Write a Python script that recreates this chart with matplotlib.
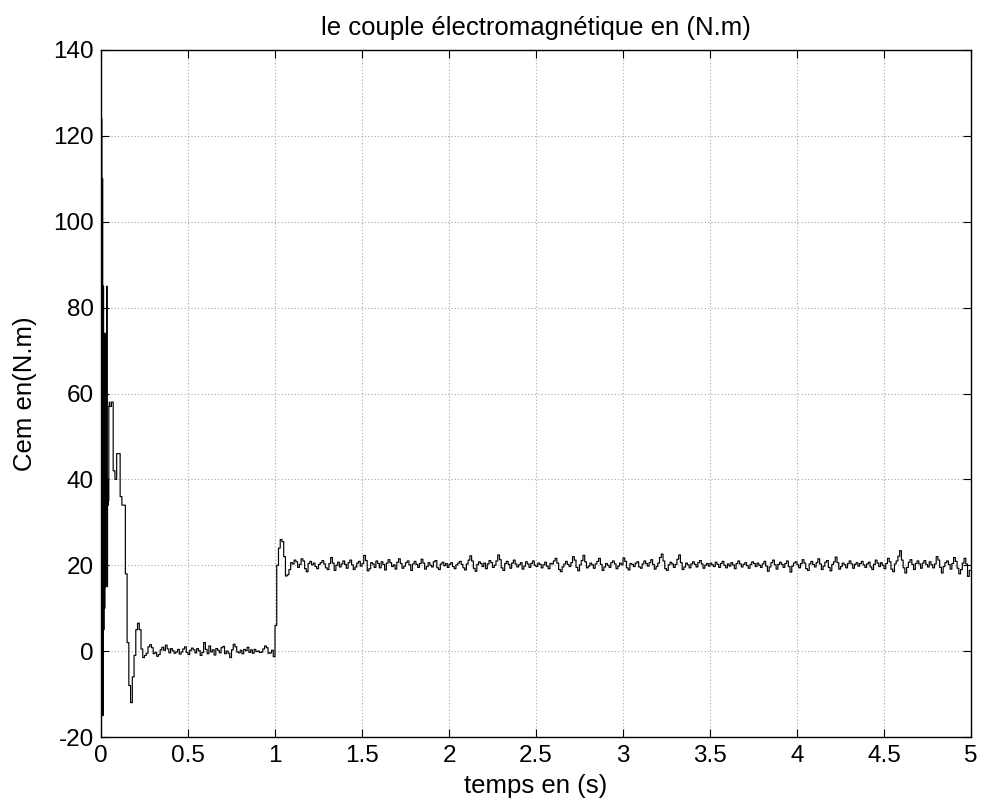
import numpy as np
import matplotlib
matplotlib.use("Agg")
import matplotlib.pyplot as plt

plt.rcParams["font.family"] = ["Liberation Sans", "DejaVu Sans"]
plt.rcParams["axes.unicode_minus"] = False

# Start-up burst, sampled every 2.5 ms (t = 0 .. 0.0475 s)
cem_startup = [-18, 124, -10, 110, -15, 85, 5, 74, 10, 74,
               15, 72, 33, 85, 15, 40, 34, 35, 57, 58]

# Transient after start-up, every 10 ms (t = 0.05 .. 0.25 s)
cem_transient = [57, 58, 42, 40, 46, 46, 36, 34, 34, 18,
                 2, -8, -12, -6, -1, 5, 6.5, 5, 0.5, -1.5, -1]

# No-load ripple around 0 N.m, every 10 ms (t = 0.26 .. 0.99 s)
cem_noload = [-0.5, 1.0, 1.5, 0.8, -0.6, -0.3, -1.2, -0.8, 0.3, 0.9,
              0.2, 1.4, 0.5, -0.4, 0.6, 0.1, -0.5, -0.2, 0.4, -0.7,
              -0.2, 0.5, 1.0, -0.3, -0.8, 0.2, 0.7, 0.3, -0.4, 0.6,
              0.1, -1.0, -0.3, 2.0, 0.4, -0.6, 1.2, -0.2, 0.3, -0.9,
              0.6, 0.2, -0.4, 0.8, 1.1, -0.6, 0.0, -0.5, -1.5, 0.3,
              1.6, 1.0, -0.2, -0.4, 0.2, -0.6, 0.4, 0.1, 0.9, -0.3,
              0.3, -0.5, 0.4, -0.1, 0.0, -0.3, -0.2, 0.5, 1.2, 0.8,
              -0.5, -0.4, 0.2, -1.3]

# Load step applied at t = 1 s (t = 1.00 .. 1.06 s)
cem_step = [6, 20, 24, 26, 25.5, 22, 17.5]

# Load torque level and ripple around it, every 10 ms (t = 1.07 .. 4.99 s)
load_level = 20.0
cem_load_ripple = [
    -2.2, -1.0, 0.6,
    0.3, 1.2, 0.8, -0.5, 0.2, 1.5, 1.0, -0.8, -1.5, 0.4,
    0.9, 0.1, 0.5, -0.3, -0.8, 0.2, 0.6, 1.1, 0.3, -0.6,
    -1.0, 0.4, 1.8, 0.5, -1.2, 0.0, 0.7, -0.4, 0.3, 1.0,
    0.2, -0.7, 0.6, 1.2, 0.1, -1.0, -0.4, 0.5, 0.9, -0.2,
    0.4, 2.3, 1.1, -1.3, -0.8, 0.6, 0.3, -0.5, 1.0, 0.4,
    -0.6, 0.8, 0.2, -1.1, 0.5, 1.3, 0.6, -0.3, 0.1, -0.9,
    0.7, 1.5, 0.4, -0.7, -0.2, 0.6, 1.0, 0.1, -1.2, 0.3,
    0.9, 0.2, -0.5, 0.4, 1.4, 0.5, -0.9, -0.3, 0.6, 0.0,
    -0.4, 0.8, 1.1, -0.6, -1.0, 0.3, 0.7, -0.1, 0.4, -0.5,
    0.2, 0.6, -0.3, -0.8, 0.1, 0.5, 0.9, 0.2, -0.6, -1.1,
    0.3, 1.2, 2.2, 1.0, -0.7, -1.4, 0.2, 0.8, 0.4, -0.3,
    0.5, -0.8, 0.3, 1.1, 0.6, -0.5, 0.0, 1.0, 2.4, 1.3,
    -0.6, -1.2, 0.4, 0.9, 0.2, -0.7, 0.5, 1.2, 0.3, -0.4,
    0.1, 0.6, -0.9, -0.2, 0.8, 0.3, -0.5, 0.4, 1.0, 0.0,
    -0.3, 0.5, 0.2, -0.6, 0.1, 0.7, -0.2, -0.8, 0.4, 0.3,
    1.0, 1.6, 0.5, -1.0, -1.5, -0.4, 0.3, 0.9, 0.2, -0.3,
    0.6, 2.0, 1.2, -0.5, -1.3, 0.1, 1.1, 2.3, 0.8, -0.6,
    -0.2, 0.5, 0.1, -0.7, 0.3, 0.9, 1.6, 0.2, -1.2, -0.4,
    0.4, 0.0, -0.5, 0.6, 1.0, 0.3, -0.8, -0.2, 0.5, 0.1,
    1.7, 0.9, -0.6, -1.1, 0.4, 0.2, -0.3, 0.5, 0.8, -0.4,
    -0.7, 0.3, 1.0, 0.4, -0.2, 0.6, 1.3, 0.2, -0.9, -0.3,
    0.5, 1.8, 2.6, 1.0, -0.8, -1.2, 0.1, 0.7, 0.3, -0.5,
    0.2, 1.4, 2.4, 0.6, -1.0, -0.4, 0.5, 0.1, -0.6, 0.3,
    0.8, 0.2, -0.4, 0.6, 1.1, 0.3, -0.7, 0.0, 0.4, -0.2,
    0.5, 0.1, -0.3, 0.7, 0.2, -0.5, 0.4, 0.9, 0.0, -0.6,
    0.3, -0.2, 0.6, 0.1, -0.8, 0.4, 1.0, 0.3, -0.4, 0.2,
    0.6, -0.1, -0.7, 0.2, 0.8, 0.4, -0.3, 0.5, 0.0, -0.5,
    0.3, 0.9, -0.2, -1.4, -0.4, 0.6, 1.2, 0.1, -0.9, 0.2,
    0.7, 0.2, -0.5, 0.4, 1.0, -0.3, -1.6, -0.2, 0.5, 0.8,
    0.1, -0.6, 0.4, 1.3, 0.5, -0.8, -1.2, 0.3, 0.9, 0.2,
    -0.4, 0.6, 1.5, 0.3, -1.0, -0.2, 0.7, 1.1, -0.5, -1.3,
    0.2, 0.8, 1.9, 0.6, -0.9, -0.3, 0.5, 0.1, -0.6, 0.4,
    1.0, 0.3, -0.7, 0.2, 0.6, -0.2, 0.4, 0.9, 0.1, -0.5,
    0.3, 0.7, -0.4, -1.0, 0.2, 1.2, 0.5, -0.3, 0.6, 0.0,
    -0.8, 0.4, 1.6, 0.8, -0.9, -1.5, 0.3, 1.0, 2.1, 3.4,
    1.2, -0.6, -1.8, -0.5, 0.7, 1.3, 0.2, -1.0, 0.4, 1.0,
    0.3, -0.7, 0.5, 1.1, 0.2, -0.4, 0.8, 0.1, -0.6, 0.3,
    2.0, 1.2, -0.5, -1.8, -0.3, 0.6, 1.0, 0.2, -0.9, 0.4,
    1.8, 0.9, -0.7, -2.0, -1.0, 0.5, 1.6, 0.3, -2.6, -1.2,
]

x_ticks = [0, 0.5, 1, 1.5, 2, 2.5, 3, 3.5, 4, 4.5, 5]
x_tick_labels = ["0", "0.5", "1", "1.5", "2", "2.5", "3", "3.5", "4", "4.5", "5"]
y_ticks = [-20, 0, 20, 40, 60, 80, 100, 120, 140]

# Sample instants for each segment
t_startup = 0.0025 * np.arange(len(cem_startup))
t_transient = 0.05 + 0.01 * np.arange(len(cem_transient))
t_noload = 0.26 + 0.01 * np.arange(len(cem_noload))
t_step = 1.00 + 0.01 * np.arange(len(cem_step))
t_load = 1.07 + 0.01 * np.arange(len(cem_load_ripple))

t = np.concatenate([t_startup, t_transient, t_noload, t_step, t_load, [5.0]])
cem = np.concatenate([cem_startup, cem_transient, cem_noload, cem_step,
                      load_level + np.array(cem_load_ripple),
                      [load_level + cem_load_ripple[-1]]])

fig = plt.figure(figsize=(9.81, 8.11), dpi=100)
ax = fig.add_axes([101 / 981, 1 - 737 / 811, 870 / 981, 687 / 811])

ax.plot(t, cem, drawstyle="steps-post", color="black", lw=0.85)

ax.set_xlim(0, 5)
ax.set_ylim(-20, 140)
ax.set_xticks(x_ticks)
ax.set_xticklabels(x_tick_labels)
ax.set_yticks(y_ticks)

ax.grid(True, color="#a8a8a8", linestyle=(0, (1, 2)), linewidth=0.8)
ax.tick_params(direction="in", length=6, width=0.8, top=True, right=True,
               labelsize=17.5, colors="black")
ax.tick_params(axis="x", pad=6)
ax.tick_params(axis="y", pad=5)
for s in ax.spines.values():
    s.set_linewidth(1.0)
    s.set_color("black")

ax.set_title("le couple électromagnétique en (N.m)", fontsize=18.5, pad=11)
ax.set_xlabel("temps en (s)", fontsize=18.5, labelpad=5)
ax.set_ylabel("Cem en(N.m)", fontsize=18.5, labelpad=12)

fig.savefig("out.png", dpi=100)
